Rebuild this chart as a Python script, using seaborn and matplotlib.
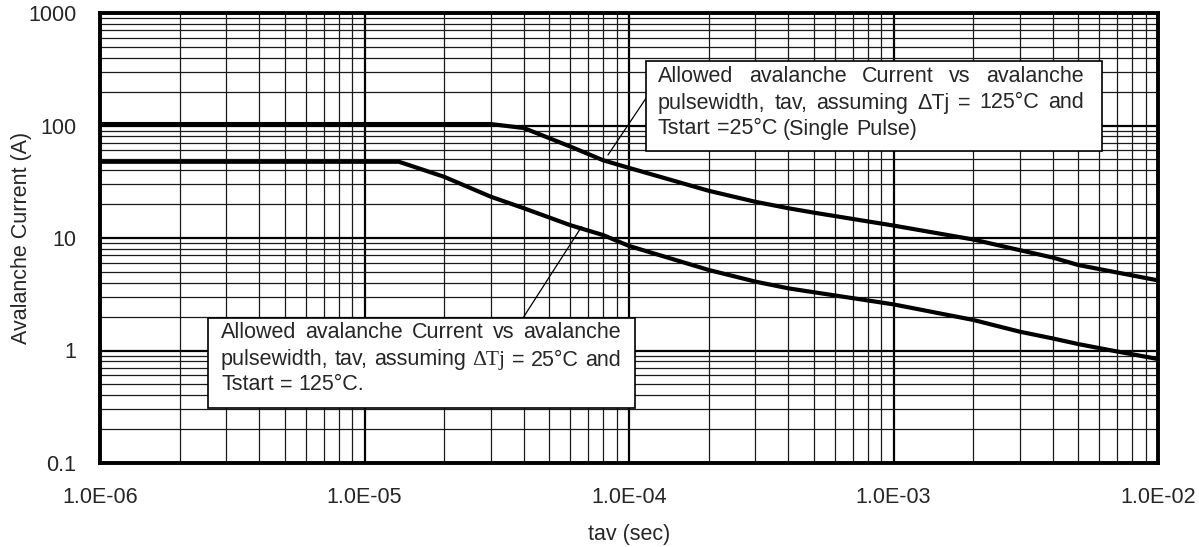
import matplotlib
matplotlib.use("Agg")
import matplotlib.pyplot as plt
import seaborn as sns
import pandas as pd
from matplotlib.patches import Rectangle
from matplotlib.ticker import LogLocator, FixedLocator, FixedFormatter, NullFormatter

# data
tav_hi = [1e-6, 3e-5, 4e-5, 6e-5, 8e-5, 1e-4, 2e-4, 3e-4, 4e-4, 5e-4, 1e-3, 2e-3, 3e-3, 4e-3, 5e-3, 1e-2]
cur_hi = [103, 103, 95, 65, 49, 42, 26.3, 21, 18.4, 16.8, 12.9, 9.7, 7.8, 6.7, 5.75, 4.2]
tav_lo = [1e-6, 1.35e-5, 2e-5, 3e-5, 4e-5, 6e-5, 8e-5, 1e-4, 2e-4, 3e-4, 4e-4, 1e-3, 2e-3, 3e-3, 4e-3, 5e-3, 7e-3, 1e-2]
cur_lo = [47.6, 47.6, 35, 23.3, 18.4, 13, 10.6, 8.5, 5.2, 4.1, 3.57, 2.57, 1.87, 1.47, 1.28, 1.14, 0.98, 0.84]

x_ticks = [1e-6, 1e-5, 1e-4, 1e-3, 1e-2]
x_labels = ["1.0E-06", "1.0E-05", "1.0E-04", "1.0E-03", "1.0E-02"]
y_ticks = [0.1, 1, 10, 100, 1000]
y_labels = ["0.1", "1", "10", "100", "1000"]

note_hi = ["Allowed avalanche Current vs avalanche",
           "pulsewidth, tav, assuming \u0394Tj = 125\u00b0C and",
           "Tstart =25\u00b0C (Single Pulse)"]
note_lo = ["Allowed avalanche Current vs avalanche",
           "pulsewidth, tav, assuming \u0394Tj = 25\u00b0C and",
           "Tstart = 125\u00b0C."]

df = pd.concat([
    pd.DataFrame({"tav": tav_hi, "I": cur_hi, "curve": "dTj125"}),
    pd.DataFrame({"tav": tav_lo, "I": cur_lo, "curve": "dTj25"}),
])

sns.set_style("white")
plt.rcParams["font.family"] = ["Liberation Sans", "DejaVu Sans"]
FS = 15.5

fig = plt.figure(figsize=(11.99, 5.47), dpi=100)
ax = fig.add_axes([100 / 1199, 1 - 463 / 547, 1058 / 1199, 450 / 547])

sns.lineplot(data=df, x="tav", y="I", units="curve", estimator=None, sort=False,
             color="black", lw=3.0, ax=ax, zorder=5, legend=False)

ax.set_xscale("log")
ax.set_yscale("log")
ax.set_xlim(1e-6, 1e-2)
ax.set_ylim(0.1, 1000)

ax.xaxis.set_major_locator(FixedLocator(x_ticks))
ax.xaxis.set_major_formatter(FixedFormatter(x_labels))
ax.yaxis.set_major_locator(FixedLocator(y_ticks))
ax.yaxis.set_major_formatter(FixedFormatter(y_labels))
ax.xaxis.set_minor_locator(LogLocator(base=10, subs=range(2, 10), numticks=20))
ax.yaxis.set_minor_locator(LogLocator(base=10, subs=range(2, 10), numticks=20))
ax.xaxis.set_minor_formatter(NullFormatter())
ax.yaxis.set_minor_formatter(NullFormatter())

ax.grid(which="major", color="black", lw=1.6)
ax.grid(which="minor", color="#1a1a1a", lw=0.9)
ax.set_axisbelow(True)
ax.tick_params(which="both", length=0, labelsize=FS)
ax.tick_params(axis="x", pad=17)
ax.tick_params(axis="y", pad=17)
for s in ax.spines.values():
    s.set_linewidth(2.8)
    s.set_color("black")
    s.set_zorder(6)

ax.set_xlabel("tav (sec)", fontsize=FS, labelpad=12)
ax.set_ylabel("Avalanche Current (A)", fontsize=FS, labelpad=-3)


def px(x, y):
    # pixel position of the reference image -> axes fraction
    return (x - 100) / 1058, (463 - y) / 450


# leader lines
ax.plot([1.16e-4, 8.33e-5], [175, 54.7], color="black", lw=0.9, zorder=7)
ax.plot([6.62e-5, 3.97e-5], [12.6, 1.94], color="black", lw=0.9, zorder=7)

# boxes
for (x0, y0, x1, y1) in [(646, 61, 1102, 151), (208, 318, 635, 408)]:
    a0, b0 = px(x0, y1)
    a1, b1 = px(x1, y0)
    ax.add_patch(Rectangle((a0, b0), a1 - a0, b1 - b0, transform=ax.transAxes,
                           facecolor="white", edgecolor="black", lw=1.2, zorder=8))

fig.canvas.draw()
renderer = fig.canvas.get_renderer()


def put_line(line, x_left, x_right, y, justify, serif_delta=False):
    words = line.split(" ")
    objs = []
    for w in words:
        fam = ["Liberation Serif", "DejaVu Serif"] if (serif_delta and "\u0394" in w) else ["Liberation Sans", "DejaVu Sans"]
        t = ax.text(0, 0, w, transform=None, fontsize=FS, family=fam, va="center", ha="left", zorder=9)
        objs.append(t)
    widths = [t.get_window_extent(renderer).width for t in objs]
    space = renderer.points_to_pixels(FS) * 0.278
    if justify and len(words) > 1:
        space = (x_right - x_left - sum(widths)) / (len(words) - 1)
    xx = x_left
    for t, w in zip(objs, widths):
        fx, fy = px(xx, y)
        t.set_transform(ax.transAxes)
        t.set_position((fx, fy))
        xx += w + space


for i, (line, yy) in enumerate(zip(note_hi, [77, 103, 129])):
    put_line(line, 658, 1084, yy, justify=(i < 2))
for i, (line, yy) in enumerate(zip(note_lo, [333, 360, 385])):
    put_line(line, 221, 621, yy, justify=(i < 2), serif_delta=True)

fig.savefig("out.png", dpi=100, facecolor="white")
